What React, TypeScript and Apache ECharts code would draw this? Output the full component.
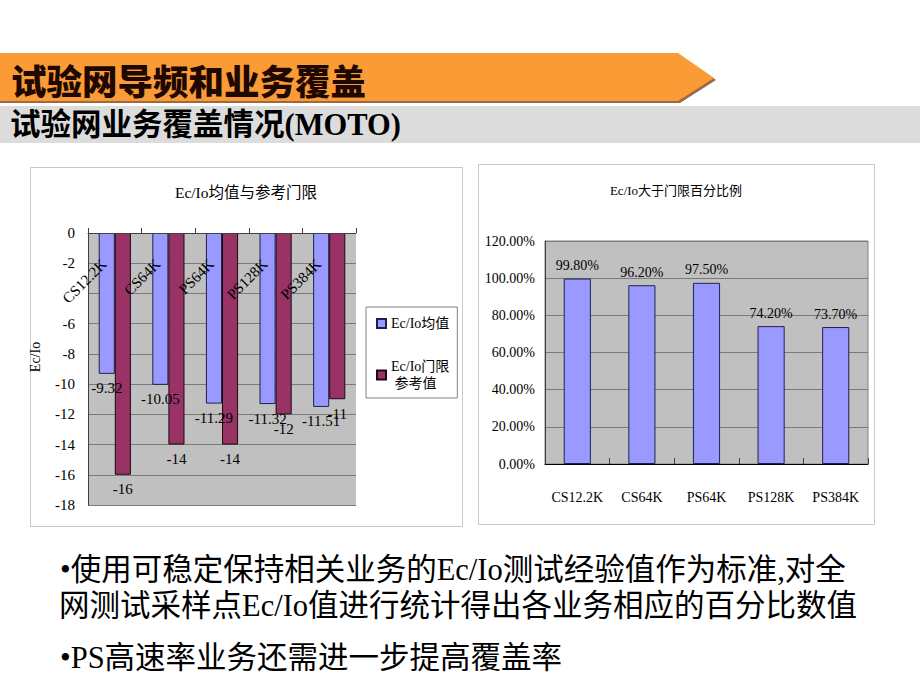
import React, { useEffect, useRef } from "react";
import * as echarts from "echarts";

const categories = ["CS12.2K", "CS64K", "PS64K", "PS128K", "PS384K"];
const meanValues = [-9.32, -10.05, -11.29, -11.32, -11.51];
const thresholdValues = [-16, -14, -14, -12, -11];
const percentValues = [99.8, 96.2, 97.5, 74.2, 73.7];

const seriesMeanName = "Ec/Io均值";
const seriesThresholdName = "Ec/Io门限参考值";

const headerTitle = "试验网导频和业务覆盖";
const subTitle = "试验网业务覆盖情况(MOTO)";
const leftTitle = "Ec/Io均值与参考门限";
const rightTitle = "Ec/Io大于门限百分比例";
const bodyLines = [
  "•使用可稳定保持相关业务的Ec/Io测试经验值作为标准,对全",
  "网测试采样点Ec/Io值进行统计得出各业务相应的百分比数值",
  "•PS高速率业务还需进一步提高覆盖率",
];

const SERIF = '"Liberation Serif", "Noto Sans CJK SC", serif';
const CJK = '"Noto Sans CJK SC", sans-serif';

export default function App() {
  const ref = useRef<HTMLDivElement>(null);
  useEffect(() => {
    if (!ref.current) return;
    const chart = echarts.init(ref.current, null, { renderer: "svg" });
    const option: any = {
      animation: false,
      backgroundColor: "#ffffff",
      graphic: [
        {
          type: "polygon",
          shape: { points: [[0, 55], [680, 55], [716, 80], [680, 103], [0, 103]] },
          style: { fill: "#9a6a48" },
          z: 0,
        },
        {
          type: "polygon",
          shape: { points: [[0, 53], [678, 53], [714, 78], [678, 101], [0, 101]] },
          style: { fill: "#fa9b36" },
          z: 1,
        },
        {
          type: "rect",
          shape: { x: 0, y: 106, width: 920, height: 37 },
          style: { fill: "#dcdcdc" },
          z: 1,
        },
        {
          type: "text",
          x: 11,
          y: 79,
          z: 2,
          style: {
            text: headerTitle,
            fontSize: 35.5,
            fontWeight: 900,
            fontFamily: CJK,
            fill: "#1e0800",
            verticalAlign: "middle",
            align: "left",
          },
        },
        {
          type: "text",
          x: 10,
          y: 125,
          z: 2,
          style: {
            text: subTitle,
            fontSize: 30.5,
            fontWeight: "bold",
            fontFamily: SERIF,
            fill: "#000000",
            verticalAlign: "middle",
            align: "left",
          },
        },
        {
          type: "rect",
          shape: { x: 30.5, y: 167.5, width: 432, height: 359 },
          style: { fill: "none", stroke: "#c8c8c8", lineWidth: 1 },
          z: 0,
        },
        {
          type: "rect",
          shape: { x: 478.5, y: 164.5, width: 396, height: 360 },
          style: { fill: "none", stroke: "#c8c8c8", lineWidth: 1 },
          z: 0,
        },
        {
          type: "text",
          x: 246,
          y: 192,
          style: {
            text: leftTitle,
            fontSize: 15.5,
            fontFamily: SERIF,
            fill: "#000",
            align: "center",
            verticalAlign: "middle",
          },
        },
        {
          type: "text",
          x: 676,
          y: 190,
          style: {
            text: rightTitle,
            fontSize: 13,
            fontFamily: SERIF,
            fill: "#000",
            align: "center",
            verticalAlign: "middle",
          },
        },
        ...bodyLines.map((t, i) => ({
          type: "text",
          x: [60, 59, 60][i],
          y: [570, 606, 658][i],
          style: {
            text: t,
            fontSize: 30.5,
            fontFamily: SERIF,
            fill: "#000",
            align: "left",
            verticalAlign: "middle",
          },
        })),
      ],
      legend: {
        data: [seriesMeanName, seriesThresholdName],
        orient: "vertical",
        left: 366,
        top: 307,
        width: 96,
        itemWidth: 9,
        itemHeight: 9,
        itemGap: 26,
        padding: [8, 8, 6, 10],
        backgroundColor: "#ffffff",
        borderColor: "#808080",
        borderWidth: 1,
        icon: "rect",
        formatter: (name: string) =>
          name === seriesThresholdName ? "Ec/Io门限\n 参考值" : name,
        textStyle: { fontSize: 14, fontFamily: SERIF, color: "#000", lineHeight: 17 },
      },
      grid: [
        {
          left: 88,
          top: 233,
          width: 268,
          height: 272,
          show: true,
          backgroundColor: "#c0c0c0",
          borderWidth: 0,
        },
        {
          left: 545,
          top: 241,
          width: 323,
          height: 223,
          show: true,
          backgroundColor: "#c0c0c0",
          borderColor: "#808080",
          borderWidth: 1,
        },
      ],
      xAxis: [
        {
          type: "category",
          gridIndex: 0,
          data: categories,
          position: "top",
          axisLine: { onZero: false, lineStyle: { color: "#404040" } },
          axisTick: { show: true, inside: false, length: 5, lineStyle: { color: "#404040" } },
          axisLabel: {
            inside: true,
            interval: 0,
            rotate: -45,
            margin: 18,
            padding: [0, 15, 0, 0],
            fontSize: 15,
            fontFamily: SERIF,
            color: "#000",
          },
          z: 5,
        },
        {
          type: "category",
          gridIndex: 1,
          data: categories,
          axisLine: { lineStyle: { color: "#000" } },
          axisTick: { show: true, inside: true, length: 6, lineStyle: { color: "#404040" } },
          axisLabel: { interval: 0, margin: 26, fontSize: 14, fontFamily: SERIF, color: "#000" },
        },
      ],
      yAxis: [
        {
          type: "value",
          gridIndex: 0,
          min: -18,
          max: 0,
          interval: 2,
          name: "Ec/Io",
          nameLocation: "middle",
          nameGap: 46,
          nameTextStyle: { fontSize: 14, fontFamily: SERIF, color: "#000", padding: [0, 0, 0, 24] },
          axisLine: { show: true, lineStyle: { color: "#404040" } },
          axisTick: { show: false },
          axisLabel: {
            margin: 13,
            fontSize: 15,
            fontFamily: SERIF,
            color: "#000",
            formatter: (v: number) => (v === -4 ? "" : String(v)),
          },
          splitLine: { show: true, lineStyle: { color: "#7a7a7a", width: 1 } },
        },
        {
          type: "value",
          gridIndex: 1,
          min: 0,
          max: 120,
          interval: 20,
          axisLine: { show: true, lineStyle: { color: "#404040" } },
          axisTick: { show: false },
          axisLabel: {
            margin: 10,
            fontSize: 14,
            fontFamily: SERIF,
            color: "#000",
            formatter: (v: number) => v.toFixed(2) + "%",
          },
          splitLine: { show: true, lineStyle: { color: "#7a7a7a", width: 1 } },
        },
      ],
      series: [
        {
          name: seriesMeanName,
          type: "bar",
          xAxisIndex: 0,
          yAxisIndex: 0,
          data: meanValues,
          barGap: "0%",
          barCategoryGap: "40%",
          itemStyle: { color: "#9999ff", borderColor: "#202050", borderWidth: 1 },
          label: {
            show: true,
            position: "bottom",
            distance: 7,
            fontSize: 15,
            fontFamily: SERIF,
            color: "#000",
          },
        },
        {
          name: seriesThresholdName,
          type: "bar",
          xAxisIndex: 0,
          yAxisIndex: 0,
          data: thresholdValues,
          barGap: "0%",
          barCategoryGap: "40%",
          itemStyle: { color: "#993366", borderColor: "#1a0a10", borderWidth: 1 },
          label: {
            show: true,
            position: "bottom",
            distance: 7,
            fontSize: 15,
            fontFamily: SERIF,
            color: "#000",
          },
        },
        {
          name: "percent",
          type: "bar",
          xAxisIndex: 1,
          yAxisIndex: 1,
          data: percentValues,
          barCategoryGap: "58%",
          itemStyle: { color: "#9999ff", borderColor: "#202050", borderWidth: 1 },
          label: {
            show: true,
            position: "top",
            distance: 6,
            fontSize: 14,
            fontFamily: SERIF,
            color: "#000",
            formatter: (p: any) => Number(p.value).toFixed(2) + "%",
          },
        },
      ],
    };
    chart.setOption(option);
    return () => chart.dispose();
  }, []);
  return (
    <div
      ref={ref}
      style={{ position: "absolute", left: 0, top: 0, width: 920, height: 690 }}
    />
  );
}
